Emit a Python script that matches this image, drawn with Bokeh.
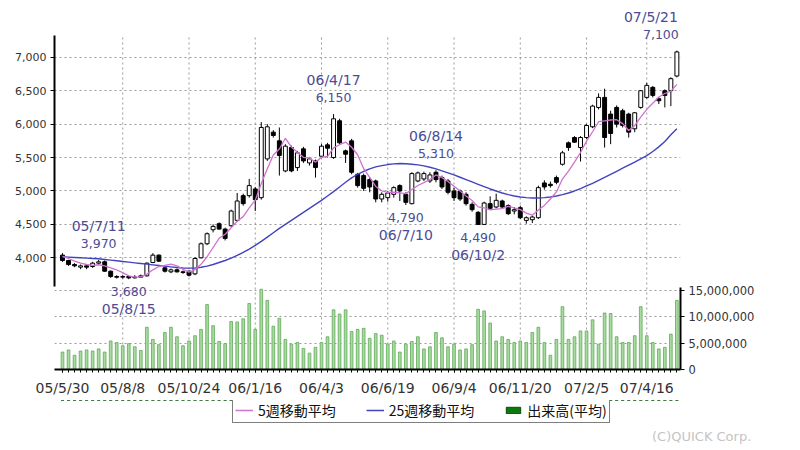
from bokeh.plotting import figure
from bokeh.layouts import column
from bokeh.models import (ColumnDataSource, Range1d, LinearAxis, FixedTicker, Div,
                          NumeralTickFormatter, Grid, LabelSet, Legend, LegendItem)
from bokeh.core.properties import value
from bokeh.embed import file_html
from bokeh.resources import INLINE

# ---------------- data ----------------
label_idx = [0, 10, 21, 32, 43, 54, 65, 76, 87, 97]
label_txt = ["05/5/30", "05/8/8", "05/10/24", "06/1/16", "06/4/3",
             "06/6/19", "06/9/4", "06/11/20", "07/2/5", "07/4/16"]

opens = [4040, 3960, 3900, 3860, 3880, 3870, 3920, 3940, 3800, 3720,
         3710, 3720, 3700, 3710, 3730, 3930, 4040, 3850, 3790, 3820,
         3790, 3800, 3760, 4000, 4210, 4420, 4510, 4430, 4480, 4560,
         4930, 4930, 5030, 4900, 5480, 5880, 5750, 5300, 5650, 5350,
         5630, 5420, 5450, 5520, 5690, 5500, 6050, 5600, 5750, 5250,
         5230, 5170, 5150, 4880, 4900, 4950, 5080, 4950, 4810, 5150,
         5180, 5150, 5280, 5200, 5150, 5000, 5000, 4950, 4800, 4680,
         4500, 4810, 4760, 4850, 4780, 4700, 4750, 4560, 4570, 4600,
         5120, 5100, 5200, 5400, 5720, 5800, 5650, 5800, 5960, 6250,
         6400, 6150, 6250, 6200, 6150, 5930, 6250, 6400, 6550, 6380,
         6500, 6500, 6720]
highs = [4070, 3970, 3920, 3900, 3890, 3940, 3970, 3960, 3810, 3740,
         3740, 3730, 3740, 3750, 3930, 4070, 4050, 3870, 3840, 3840,
         3810, 3810, 4010, 4230, 4380, 4500, 4530, 4450, 4720, 4970,
         4960, 5180, 5060, 6030, 6000, 5910, 5950, 5700, 5680, 5600,
         5660, 5500, 5470, 5700, 5720, 6150, 6080, 5620, 5780, 5270,
         5260, 5200, 5170, 4980, 5000, 5070, 5100, 4980, 5280, 5290,
         5290, 5280, 5310, 5230, 5180, 5050, 5020, 4980, 4830, 4700,
         4840, 4920, 4960, 4870, 4800, 4760, 4780, 4620, 4630, 5080,
         5160, 5140, 5230, 5600, 5740, 5820, 5820, 6000, 6290, 6460,
         6530, 6200, 6280, 6230, 6170, 6180, 6510, 6620, 6570, 6400,
         6520, 6700, 7100]
lows = [3940, 3880, 3860, 3830, 3830, 3850, 3900, 3790, 3700, 3690,
        3690, 3680, 3690, 3700, 3720, 3920, 3940, 3780, 3770, 3780,
        3760, 3720, 3740, 3990, 4190, 4380, 4420, 4260, 4460, 4540,
        4780, 4900, 4700, 4870, 5450, 5800, 5230, 5280, 5280, 5300,
        5420, 5380, 5200, 5500, 5500, 5480, 5700, 5420, 5250, 5050,
        5000, 4980, 4830, 4830, 4840, 4900, 4850, 4790, 4800, 5130,
        5150, 5120, 5130, 5030, 4950, 4850, 4850, 4780, 4690, 4490,
        4490, 4720, 4740, 4730, 4640, 4650, 4580, 4510, 4520, 4580,
        5020, 5050, 5100, 5380, 5600, 5720, 5440, 5780, 5940, 6220,
        5650, 5700, 5950, 5950, 5800, 5880, 6230, 6380, 6400, 6300,
        6250, 6270, 6700]
closes = [3960, 3900, 3880, 3880, 3860, 3920, 3940, 3800, 3720, 3710,
          3720, 3700, 3710, 3730, 3920, 4040, 3950, 3800, 3820, 3790,
          3780, 3740, 3990, 4210, 4360, 4470, 4430, 4290, 4700, 4850,
          4810, 5080, 4870, 5950, 5960, 5830, 5530, 5670, 5300, 5570,
          5450, 5480, 5350, 5670, 5640, 6080, 5720, 5550, 5280, 5080,
          5040, 5060, 4880, 4950, 4970, 5050, 5000, 4830, 5260, 5270,
          5260, 5240, 5170, 5060, 4980, 4900, 4880, 4810, 4720, 4500,
          4820, 4740, 4860, 4760, 4660, 4720, 4600, 4600, 4610, 5050,
          5060, 5080, 5130, 5570, 5650, 5730, 5800, 5980, 6270, 6400,
          5800, 5860, 6000, 5980, 5880, 6170, 6500, 6580, 6430, 6350,
          6430, 6680, 7080]
ma5 = [4020, 3990, 3950, 3920, 3900, 3888, 3896, 3880, 3848, 3818,
       3778, 3730, 3712, 3714, 3756, 3820, 3870, 3888, 3906, 3880,
       3828, 3786, 3824, 3902, 4016, 4154, 4292, 4352, 4450, 4548,
       4616, 4746, 4862, 5112, 5334, 5538, 5628, 5788, 5658, 5580,
       5504, 5494, 5430, 5504, 5518, 5644, 5692, 5732, 5654, 5542,
       5334, 5202, 5068, 5002, 4980, 4982, 4970, 4960, 5022, 5082,
       5124, 5172, 5240, 5200, 5142, 5070, 4998, 4926, 4858, 4762,
       4746, 4718, 4728, 4736, 4768, 4748, 4720, 4668, 4638, 4716,
       4784, 4880, 4986, 5178, 5298, 5432, 5576, 5746, 5886, 6036,
       6050, 6062, 6066, 6008, 5904, 5978, 6106, 6222, 6312, 6406,
       6458, 6494, 6594]
ma25 = [4015, 4010, 4005, 4000, 3995, 3990, 3985, 3975, 3965, 3955,
        3945, 3935, 3925, 3915, 3905, 3895, 3885, 3875, 3865, 3855,
        3848, 3845, 3848, 3858, 3875, 3900, 3930, 3960, 3995, 4035,
        4080, 4130, 4185, 4245, 4310, 4375, 4440, 4500, 4560, 4620,
        4680, 4740, 4800, 4860, 4925, 4990, 5060, 5130, 5195, 5250,
        5295, 5330, 5360, 5380, 5395, 5405, 5410, 5408, 5400, 5390,
        5375, 5355, 5330, 5300, 5270, 5240, 5205, 5170, 5135, 5100,
        5065, 5030, 5000, 4970, 4945, 4925, 4910, 4900, 4895, 4895,
        4900, 4910, 4925, 4945, 4970, 5000, 5035, 5075, 5115, 5160,
        5205, 5250, 5295, 5340, 5385, 5430, 5480, 5530, 5590, 5660,
        5740, 5840, 5930]
vol_m = [3.3, 3.7, 2.7, 3.5, 3.7, 3.5, 3.9, 3.3, 5.4, 5.1,
         4.5, 4.9, 4.3, 3.6, 8.0, 5.7, 4.7, 7.0, 8.0, 6.2,
         4.5, 5.4, 6.4, 7.6, 12.3, 8.3, 5.3, 4.9, 9.1, 9.0,
         9.6, 12.5, 7.6, 15.2, 13.1, 8.2, 9.7, 5.7, 4.8, 5.1,
         4.0, 3.1, 4.2, 5.1, 6.2, 11.3, 10.5, 11.3, 7.2, 7.6,
         7.8, 5.9, 6.8, 6.5, 4.8, 5.4, 3.3, 4.8, 5.3, 6.2,
         3.9, 4.3, 7.0, 6.0, 4.3, 4.8, 3.7, 3.9, 4.7, 11.4,
         11.1, 8.8, 5.4, 6.2, 5.7, 5.1, 5.4, 5.1, 7.0, 8.0,
         5.1, 2.7, 5.7, 11.9, 5.7, 6.2, 7.3, 7.3, 9.4, 4.8,
         10.7, 10.6, 6.2, 5.1, 5.1, 6.4, 11.9, 6.4, 5.1, 3.9,
         4.2, 6.7, 13.1]

ann_idx = [6, 11, 45, 57, 62, 69, 102]
ann_date = ["05/7/11", "05/8/15", "06/4/17", "06/7/10", "06/8/14", "06/10/2", "07/5/21"]
ann_val = [3970, 3680, 6150, 4790, 5310, 4490, 7100]
ann_kind = ["high", "low", "high", "low", "high", "low", "high"]

price_ticks = [4000, 4500, 5000, 5500, 6000, 6500, 7000]
vol_ticks = [0, 5000000, 10000000, 15000000]

legend_labels = ["5週移動平均", "25週移動平均", "出来高(平均)"]
copyright_text = "(C)QUICK Corp."

# axis extents
P_BOT, P_TOP = 2329, 7730          # price range of the whole frame
P_AXIS = (3570, 7325)              # drawn part of the price axis
V_TOP = 68.37e6                    # volume range of the whole frame
V_AXIS = (0, 15500000)

PINK = "#d072d0"
BLUE = "#4343bf"
VOL_DARK = "#0b7a0b"

# ---------------- sources ----------------
n = len(closes)
xs = list(range(n))
up = dict(x=[], top=[], bottom=[])
dn = dict(x=[], top=[], bottom=[])
for i in xs:
    d = up if closes[i] >= opens[i] else dn
    d["x"].append(i)
    d["top"].append(max(opens[i], closes[i]))
    d["bottom"].append(min(opens[i], closes[i]))
wick = ColumnDataSource(dict(x=xs, lo=lows, hi=highs))
src_up = ColumnDataSource(up)
src_dn = ColumnDataSource(dn)
vols = [v * 1e6 for v in vol_m]
vol_src = ColumnDataSource(dict(x=xs, v=vols))
ma_src = ColumnDataSource(dict(x=xs, m5=ma5, m25=ma25))
vgrid_src = ColumnDataSource(dict(x=label_idx[1:],
                                  y0=[P_BOT] * (len(label_idx) - 1),
                                  y1=[P_AXIS[1]] * (len(label_idx) - 1)))

hi_d = dict(x=[], y=[], d=[], v=[], dxd=[], dxv=[])
lo_d = dict(x=[], y=[], d=[], v=[], dxd=[], dxv=[])
for i, dt, v, k in zip(ann_idx, ann_date, ann_val, ann_kind):
    d = hi_d if k == "high" else lo_d
    d["x"].append(i)
    d["y"].append(v)
    d["d"].append(dt)
    d["v"].append(f"{v:,}")
    last = (i == n - 1)                 # keep the last label inside the frame
    d["dxd"].append(-26 if last else 0)
    d["dxv"].append(-16 if last else 0)
hi_src = ColumnDataSource(hi_d)
lo_src = ColumnDataSource(lo_d)

# ---------------- main chart ----------------
p = figure(width=792, height=400, output_backend="svg", toolbar_location=None,
           title=None, x_range=Range1d(-1.33, 102.6), y_range=Range1d(P_BOT, P_TOP),
           min_border_left=54, min_border_right=112, min_border_top=8,
           min_border_bottom=31)
p.extra_y_ranges = {"vol": Range1d(0, V_TOP)}
p.outline_line_color = None
p.background_fill_color = "white"
p.border_fill_color = "white"

GRID_COLOR = "#9a9a9a"
GRID_DASH = "2 3"

xa = p.xaxis[0]
xa.ticker = FixedTicker(ticks=label_idx, minor_ticks=xs)
xa.major_label_overrides = {i: t for i, t in zip(label_idx, label_txt)}
xa.axis_line_width = 2
xa.axis_line_color = "black"
xa.major_tick_out = 3
xa.major_tick_in = 0
xa.minor_tick_out = 3
xa.minor_tick_in = 0
xa.major_label_standoff = 7
xa.major_label_text_font = "DejaVu Sans"
xa.major_label_text_font_size = "14px"
xa.major_label_text_color = "#333333"

ya = p.yaxis[0]
ya.ticker = FixedTicker(ticks=price_ticks)
ya.formatter = NumeralTickFormatter(format="0,0")
ya.bounds = P_AXIS
ya.axis_line_width = 2
ya.axis_line_color = "black"
ya.major_tick_out = 4
ya.major_tick_in = 0
ya.minor_tick_out = 0
ya.minor_tick_in = 0
ya.major_label_standoff = 4
ya.major_label_text_font = "DejaVu Sans"
ya.major_label_text_font_size = "11px"
ya.major_label_text_color = "#333333"

ra = LinearAxis(y_range_name="vol", ticker=FixedTicker(ticks=vol_ticks),
                formatter=NumeralTickFormatter(format="0,0"), bounds=V_AXIS)
ra.axis_line_width = 2
ra.axis_line_color = "black"
ra.major_tick_out = 4
ra.major_tick_in = 0
ra.minor_tick_out = 0
ra.minor_tick_in = 0
ra.major_label_standoff = 4
ra.major_label_text_font = "DejaVu Sans"
ra.major_label_text_font_size = "11.5px"
ra.major_label_text_color = "#333333"
p.add_layout(ra, "right")

p.xgrid.visible = False
p.segment(x0="x", y0="y0", x1="x", y1="y1", source=vgrid_src,
          line_color=GRID_COLOR, line_dash=GRID_DASH, line_width=1)
p.ygrid.ticker = FixedTicker(ticks=price_ticks)
p.ygrid.grid_line_color = GRID_COLOR
p.ygrid.grid_line_dash = GRID_DASH
vgrid = Grid(dimension=1, ticker=FixedTicker(ticks=vol_ticks[1:]), y_range_name="vol",
             grid_line_color=GRID_COLOR, grid_line_dash=GRID_DASH)
p.add_layout(vgrid)

p.vbar(x="x", top="v", bottom=0, width=0.45, source=vol_src, y_range_name="vol",
       fill_color="#a6dc9e", line_color="#62a85b", line_width=0.8)

p.segment(x0="x", y0="lo", x1="x", y1="hi", source=wick, line_color="black", line_width=1)
p.vbar(x="x", top="top", bottom="bottom", width=0.65, source=src_up,
       fill_color="white", line_color="black", line_width=1)
p.vbar(x="x", top="top", bottom="bottom", width=0.65, source=src_dn,
       fill_color="black", line_color="black", line_width=1)

p.line(x="x", y="m25", source=ma_src, line_color=BLUE, line_width=1.4)
p.line(x="x", y="m5", source=ma_src, line_color=PINK, line_width=1.3)

ann_font = value("DejaVu Sans")
ANN_COLOR = "#4b4b96"
for src, field, dx, off, base, size in [
        (hi_src, "d", "dxd", 26, "bottom", "14px"),
        (hi_src, "v", "dxv", 12, "bottom", "12.5px"),
        (lo_src, "v", "dxv", -8, "top", "12.5px"),
        (lo_src, "d", "dxd", -22, "top", "14px")]:
    p.add_layout(LabelSet(x="x", y="y", text=field, source=src, y_offset=off,
                          x_offset=dx, text_align="center", text_baseline=base,
                          text_font=ann_font, text_font_size=size,
                          text_color=ANN_COLOR))

# ---------------- legend strip (same frame edges as the chart) ----------------
q = figure(width=792, height=30, output_backend="svg", toolbar_location=None,
           title=None, x_range=Range1d(-1.33, 102.6), y_range=Range1d(-30, 0),
           x_axis_type=None, y_axis_type=None,
           min_border_left=54, min_border_right=112, min_border_top=0,
           min_border_bottom=0)
q.outline_line_color = None
q.grid.visible = False
# legend renderers: same series, lying outside this strip's visible range
l5 = q.line(x=xs, y=ma5, line_color=PINK, line_width=1.5)
l25 = q.line(x=xs, y=ma25, line_color=BLUE, line_width=1.5)
lv = q.vbar(x=xs, top=vols, bottom=0, width=0.5, fill_color=VOL_DARK, line_color="#074d07")
legend = Legend(items=[LegendItem(label=legend_labels[0], renderers=[l5]),
                       LegendItem(label=legend_labels[1], renderers=[l25]),
                       LegendItem(label=legend_labels[2], renderers=[lv])],
                orientation="horizontal", location=(178, 7),
                border_line_color="black", border_line_width=1,
                background_fill_color="white", background_fill_alpha=1,
                label_text_font="Noto Sans CJK JP", label_text_font_size="14px",
                label_text_color="#111111",
                glyph_width=18, glyph_height=8, label_standoff=5, spacing=30,
                padding=2, margin=0, label_height=14)
q.add_layout(legend)

cp = Div(text=copyright_text, width=792, height=12, margin=(0, 0, 0, 0),
         styles={"padding-left": "652px", "font-family": "DejaVu Sans",
                 "font-size": "13px", "line-height": "13px", "color": "#c4c4c4",
                 "box-sizing": "border-box", "white-space": "nowrap"})

layout = column(p, q, cp, spacing=0)
open("out.html", "w").write(file_html(layout, INLINE))
